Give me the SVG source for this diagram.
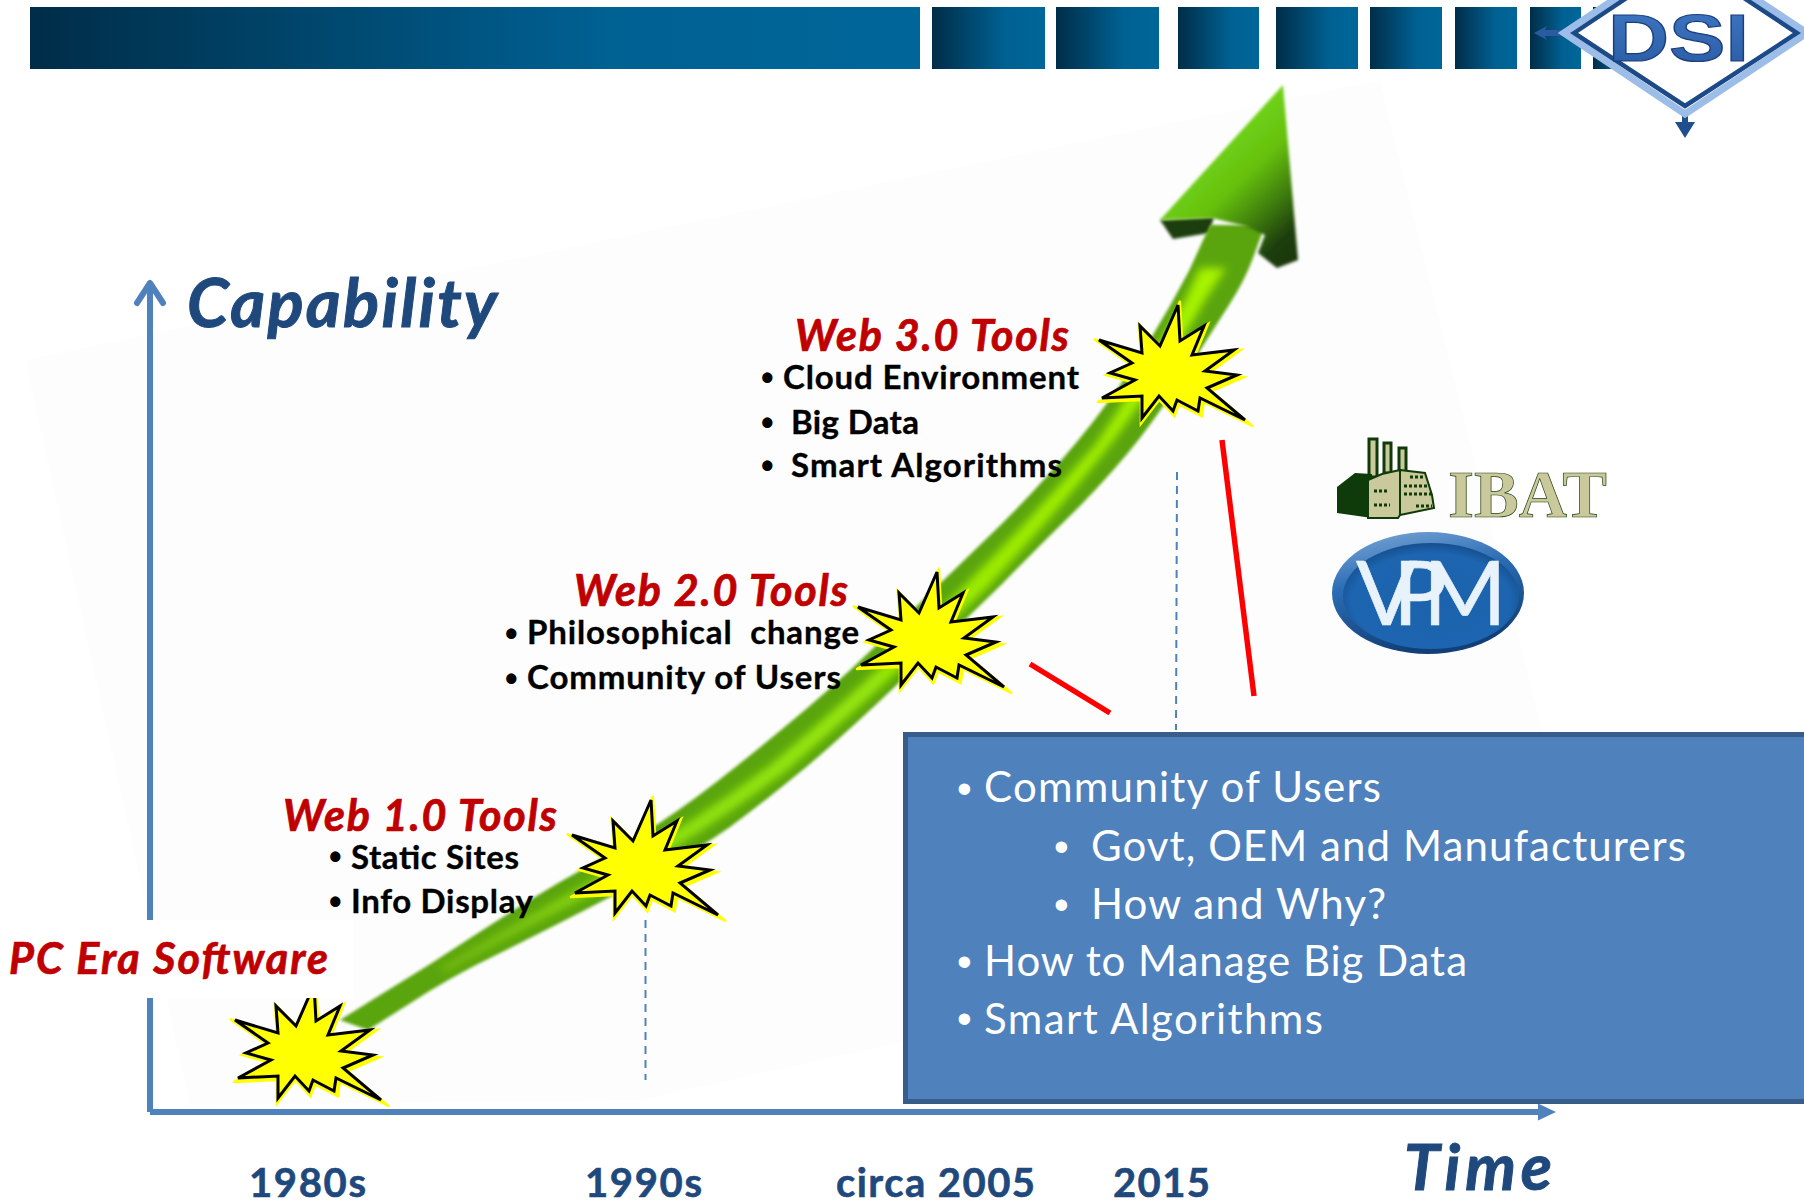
<svg xmlns="http://www.w3.org/2000/svg" xmlns:xlink="http://www.w3.org/1999/xlink" width="1804" height="1204" viewBox="0 0 1804 1204">
<style>
text{font-family:Lato,"Liberation Sans",sans-serif}
.head{font-weight:700;font-style:italic;fill:#c00000;font-size:43px;stroke:#c00000;stroke-width:.7px}
.item{font-weight:700;fill:#000;font-size:33px;stroke:#000;stroke-width:.35px}
.bul{font-family:"Liberation Sans",sans-serif;font-weight:700;fill:#000;font-size:36px}
.box{fill:#fff;font-size:42px}
.boxbul{font-family:"Liberation Sans",sans-serif;fill:#fff;font-size:42px}
.axis{font-weight:700;font-style:italic;fill:#1f497d;stroke:#1f497d;stroke-width:1px}
.year{font-weight:700;fill:#1f497d;font-size:40px;stroke:#1f497d;stroke-width:.6px}
.band{fill:url(#bandG)}
.ax{stroke:#4f81bd;stroke-width:6;fill:none}
.dash{stroke:#4f81bd;stroke-width:2;stroke-dasharray:8 6;fill:none}
.red{stroke:#f00;stroke-width:5.5;fill:none}
</style>
<defs>
<linearGradient id="bandG" x1="0" y1="0" x2="1" y2="0"><stop offset="0" stop-color="#002d48"/><stop offset="0.65" stop-color="#006193"/><stop offset="1" stop-color="#006699"/></linearGradient>
<linearGradient id="hiG" gradientUnits="userSpaceOnUse" x1="350" y1="1020" x2="1240" y2="240"><stop offset="0" stop-color="#6fae10"/><stop offset="0.3" stop-color="#8fe20a"/><stop offset="1" stop-color="#a8f400"/></linearGradient>
<linearGradient id="headG" gradientUnits="userSpaceOnUse" x1="1195" y1="150" x2="1300" y2="262"><stop offset="0" stop-color="#72d814"/><stop offset="0.35" stop-color="#66c010"/><stop offset="0.6" stop-color="#3f7e08"/><stop offset="0.82" stop-color="#1d3d08"/><stop offset="1" stop-color="#183606"/></linearGradient>
<radialGradient id="vpmG" cx="0.5" cy="0.55" r="0.6"><stop offset="0" stop-color="#1c62ac"/><stop offset="0.75" stop-color="#1d65b0"/><stop offset="1" stop-color="#12457f"/></radialGradient>
<linearGradient id="vpmRim" x1="0" y1="0" x2="0.3" y2="1"><stop offset="0" stop-color="#7fa9d8"/><stop offset="0.45" stop-color="#2a6cb4"/><stop offset="1" stop-color="#123f78"/></linearGradient>
<linearGradient id="dsiG" x1="0" y1="0" x2="0" y2="1"><stop offset="0" stop-color="#3f78c4"/><stop offset="1" stop-color="#2a5aa4"/></linearGradient>
<filter id="blur2" x="-10%" y="-10%" width="120%" height="120%"><feGaussianBlur stdDeviation="1.6"/></filter>
<filter id="blur4" x="-10%" y="-10%" width="120%" height="120%"><feGaussianBlur stdDeviation="4"/></filter>
<marker id="tri" markerUnits="userSpaceOnUse" markerWidth="20" markerHeight="20" refX="3" refY="10" orient="auto"><path d="M0 1.500 18 10 0 18.500z" fill="#4f81bd"/></marker>
<g id="star">
<polygon fill="#ff0" stroke="#ff0" stroke-width="2" transform="translate(1 2) scale(1.09)" points="11,-68 13,-32 37,-47 25,-18 67,-23 38,-2 70,2 40,15 78,47 33,25 31,38 10,27 6,38 -8,23 -25,45 -25,23 -65,25 -32,7 -57,0 -35,-10 -68,-33 -25,-20 -27,-47 -7,-27"/>
<polygon fill="#ff0" stroke="#000" stroke-width="3" stroke-linejoin="miter" points="11,-68 13,-32 37,-47 25,-18 67,-23 38,-2 70,2 40,15 78,47 33,25 31,38 10,27 6,38 -8,23 -25,45 -25,23 -65,25 -32,7 -57,0 -35,-10 -68,-33 -25,-20 -27,-47 -7,-27"/>
</g>
</defs>
<rect width="1804" height="1204" fill="#fff"/>
<polygon id="photo-bg" points="25,360 1380,80 1545,740 1540,900 640,1100 190,1105" fill="#fdfdfd"/>

<g id="top-band">
<rect class="band" x="30" y="7" width="890" height="62"/>
<rect class="band" x="932" y="7" width="113" height="62"/>
<rect class="band" x="1056" y="7" width="103" height="62"/>
<rect class="band" x="1178" y="7" width="81" height="62"/>
<rect class="band" x="1276" y="7" width="82" height="62"/>
<rect class="band" x="1370" y="7" width="72" height="62"/>
<rect class="band" x="1455" y="7" width="62" height="62"/>
<rect class="band" x="1530" y="7" width="51" height="62"/>
<rect class="band" x="1593" y="7" width="40" height="62"/>
</g>

<g id="growth-arrow">
<polygon filter="url(#blur2)" fill="#1d3d08" points="1160,220 1173,239 1209,233 1214,217"/>
<path filter="url(#blur2)" fill="#5aa50c" d="M340 1020L385 992Q430 965 475 935Q521 905 560 882Q600 860 639 836Q678 812 719 780Q760 748 805 710Q850 672 898 624Q947 577 982 543Q1017 510 1048 475Q1080 440 1105 406Q1130 372 1150 340Q1170 307 1189 271L1210 225 1265 225 1253 258Q1245 280 1229 305Q1213 330 1189 368Q1165 405 1140 438Q1115 470 1078 508Q1040 545 1002 584Q963 622 906 676Q850 730 805 768Q760 805 730 827Q700 848 660 870Q620 892 583 911Q546 930 498 954Q450 977 409 1004L368 1030z"/>
<path filter="url(#blur4)" fill="url(#hiG)" d="M440 968Q530 915 610 870Q690 825 770 765Q860 690 960 590Q1030 520 1095 445Q1130 395 1185 300L1200 268 1226 268 1205 300Q1160 380 1110 445Q1055 515 985 590Q880 690 785 772Q700 835 620 880Q535 922 445 972z"/>
<polygon filter="url(#blur2)" fill="url(#headG)" points="1283,85 1160,220 1212,218 1245,226 1265,235 1258,253 1277,268 1298,260"/>
</g>

<g id="connectors">
<path class="ax" d="M150 1112V284"/>
<path class="ax" d="M137 303 150 283 163 303" stroke-linecap="round" stroke-linejoin="round"/>
<path class="ax" d="M150 1112H1541" marker-end="url(#tri)"/>
<path class="dash" d="M645.500 920V1080"/>
<path class="dash" d="M1177 472 1176 730"/>
<path class="red" d="M1030 664 1110 713"/>
<path class="red" d="M1222 440 1254 696"/>
</g>

<g id="burst-2005"><use xlink:href="#star" href="#star" transform="translate(926 640)"/></g>
<g id="burst-2015"><use xlink:href="#star" href="#star" transform="translate(1167 373)"/></g>
<g id="burst-1990"><use xlink:href="#star" href="#star" transform="translate(640 868)"/></g>
<g id="burst-1980"><use xlink:href="#star" href="#star" transform="translate(303 1053)"/></g>

<rect id="pc-era-backing" x="0" y="920" width="353" height="78" fill="#fff"/>

<g id="label-pc-era"><text class="head" x="9" y="974" textLength="319">PC Era Software</text></g>
<g id="label-web1">
<text class="head" x="283" y="831" textLength="274">Web 1.0 Tools</text>
<text class="bul" x="329" y="869">•</text><text class="item" x="351" y="869" textLength="168">Static Sites</text>
<text class="bul" x="329" y="914">•</text><text class="item" x="351" y="913" textLength="182">Info Display</text>
</g>
<g id="label-web2">
<text class="head" x="574" y="606" textLength="274">Web 2.0 Tools</text>
<text class="bul" x="505" y="646">•</text><text class="item" x="527" y="644" textLength="332" style="white-space:pre">Philosophical  change</text>
<text class="bul" x="505" y="691">•</text><text class="item" x="527" y="689" textLength="314">Community of Users</text>
</g>
<g id="label-web3">
<text class="head" x="795" y="351" textLength="274">Web 3.0 Tools</text>
<text class="bul" x="761" y="390">•</text><text class="item" x="783" y="389" textLength="296">Cloud Environment</text>
<text class="bul" x="761" y="435">•</text><text class="item" x="791" y="434" textLength="128">Big Data</text>
<text class="bul" x="761" y="478">•</text><text class="item" x="791" y="477" textLength="271">Smart Algorithms</text>
</g>

<g id="axis-labels">
<text class="axis" x="187" y="327" style="font-size:67px" textLength="310">Capability</text>
<text class="axis" x="1404" y="1190" style="font-size:64px" textLength="148">Time</text>
<text class="year" x="249" y="1197" textLength="117">1980s</text>
<text class="year" x="585" y="1197" textLength="117">1990s</text>
<text class="year" x="836" y="1197" textLength="199">circa 2005</text>
<text class="year" x="1113" y="1197" textLength="97">2015</text>
</g>

<g id="info-box">
<rect x="905.500" y="734.500" width="910" height="367" fill="#4f81bd" stroke="#385d8a" stroke-width="5"/>
<text class="boxbul" x="957" y="803">•</text><text class="box" x="984" y="802" textLength="397">Community of Users</text>
<text class="boxbul" x="1054" y="861">•</text><text class="box" x="1091" y="861" textLength="595">Govt, OEM and Manufacturers</text>
<text class="boxbul" x="1054" y="919">•</text><text class="box" x="1091" y="919" textLength="295">How and Why?</text>
<text class="boxbul" x="957" y="976">•</text><text class="box" x="984" y="976" textLength="483">How to Manage Big Data</text>
<text class="boxbul" x="957" y="1033">•</text><text class="box" x="984" y="1034" textLength="339">Smart Algorithms</text>
</g>

<g id="logo-ibat">
<g id="ibat-chimneys" fill="#c9c99b" stroke="#0f3b0a" stroke-width="3">
<rect x="1369" y="439" width="8" height="38"/><rect x="1384" y="443" width="7" height="30"/><rect x="1399" y="448" width="7" height="26"/>
</g>
<polygon fill="#0f3b0a" points="1337,487 1355,473 1372,474 1372,518 1337,513"/>
<polygon fill="#c9c99b" stroke="#0f3b0a" stroke-width="2" points="1368,480 1382,474 1400,470 1400,515 1398,518 1368,518"/>
<polygon fill="#c9c99b" stroke="#0f3b0a" stroke-width="2" points="1400,470 1425,473 1432,495 1434,508 1400,515"/>
<path stroke="#0f3b0a" stroke-width="3" stroke-dasharray="3 2" fill="none" d="M1374 491H1388M1374 505H1390M1345 496H1356M1410 477H1424M1404 486H1430M1404 494H1431M1416 506H1432"/>
<text x="1448" y="517" font-size="68" font-weight="700" style="font-family:'Liberation Serif',serif" fill="#c9c99b" stroke="#1e3d0f" stroke-width="0.7" textLength="159" lengthAdjust="spacingAndGlyphs">IBAT</text>
</g>

<g id="logo-vpm">
<ellipse cx="1428" cy="593" rx="96" ry="61" fill="url(#vpmRim)"/>
<ellipse cx="1431" cy="596" rx="88" ry="53" fill="url(#vpmG)"/>
<text x="1356" y="625" font-size="90" fill="#e8f2fa" stroke="#e8f2fa" stroke-width="0.6" letter-spacing="-24" style="font-family:Lato,'Liberation Sans',sans-serif">VPM</text>
</g>

<g id="logo-dsi">
<path d="M1534 33 1547 26 1545 30H1570V36H1545L1547 40z" fill="#2a5aa0"/>
<path d="M1682 112V122H1675L1685 138 1695 122H1688V112z" fill="#1f4e8c"/>
<polygon points="1564,33 1685,-48 1807,33 1685,114" fill="#fff" stroke="#9cbde8" stroke-width="7"/>
<polygon points="1574,33 1685,-41 1797,33 1685,106" fill="#fff" stroke="#1c4a88" stroke-width="4.500"/>
<text x="1608" y="61" font-size="67" font-weight="700" fill="url(#dsiG)" stroke="#1c3f7a" stroke-width="1.200" textLength="141" lengthAdjust="spacingAndGlyphs" style="font-family:'Liberation Sans',sans-serif">DSI</text>
</g>
</svg>
